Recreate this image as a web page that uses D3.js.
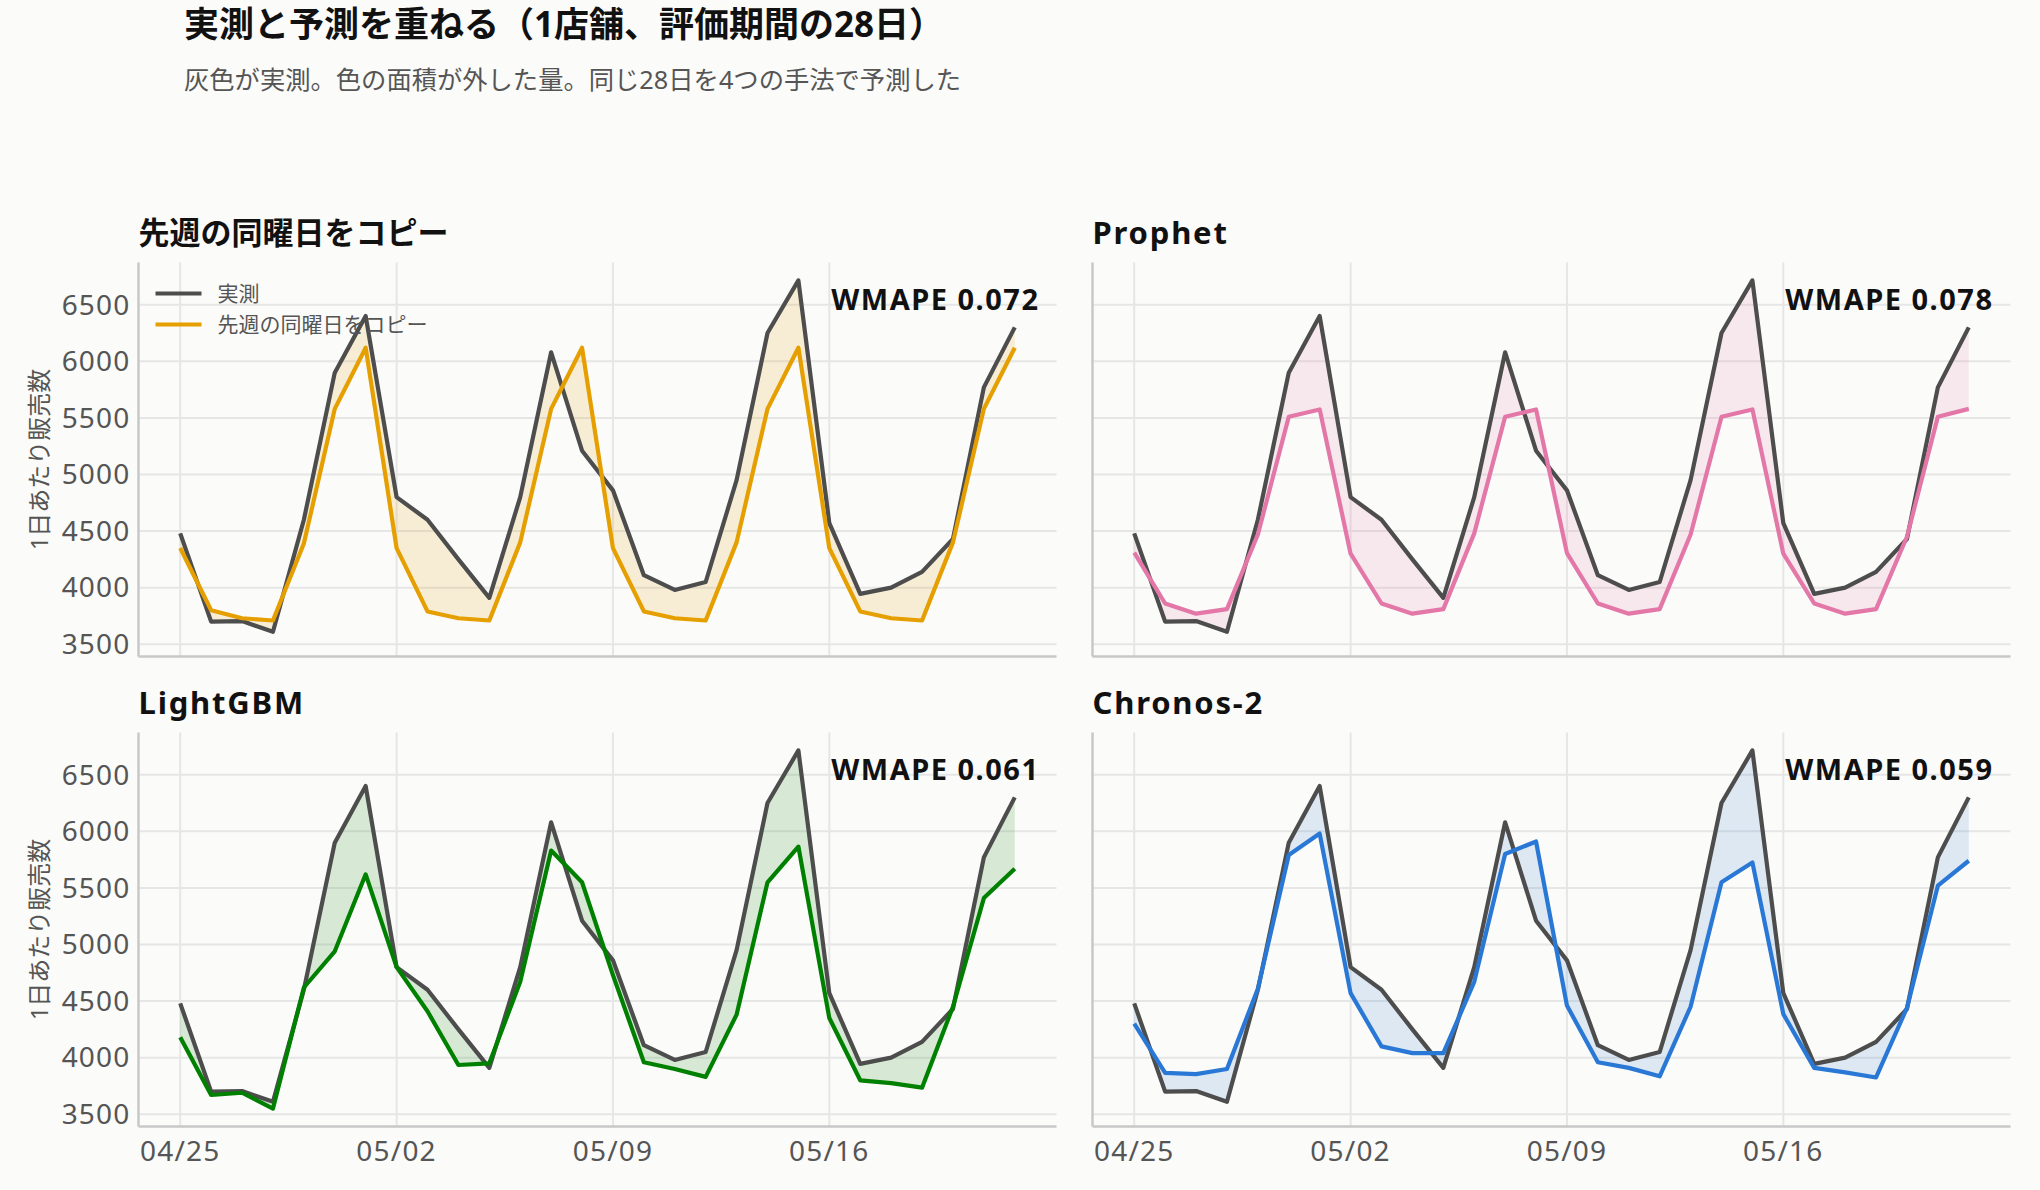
<!DOCTYPE html>
<html>
<head>
<meta charset="utf-8">
<script src="https://cdn.jsdelivr.net/npm/d3@7"></script>
<style>
    body { margin: 0; background: #fbfbf9; }
    svg { display: block; font-family: "Noto Sans", "Noto Sans CJK JP", sans-serif; }
    .grid line { stroke: #e6e6e6; stroke-width: 2; }
    .spine { stroke: #c8c8c8; stroke-width: 2.5; }
    .tick-label { fill: #555; font-size: 28px; letter-spacing: 1.2px; }
    .panel-title { fill: #111; font-size: 31px; font-weight: 700; }
    .panel-title.latin { letter-spacing: 1.8px; }
    .wmape { fill: #111; font-size: 29px; font-weight: 700; letter-spacing: 1.5px; }
    .y-title { fill: #555; font-size: 24px; }
    .legend text { fill: #555; font-size: 21px; }
</style>
</head>
<body>
<svg id="chart" width="2040" height="1190"></svg>
<script>
    // 28 evaluation days, 04/25 .. 05/22
    const firstDay = new Date(2025, 3, 25);
    const lastDay = new Date(2025, 4, 22);
    const tickLabels = ["04/25", "05/02", "05/09", "05/16"];
    const yTicks = [3500, 4000, 4500, 5000, 5500, 6000, 6500];

    const actual = [4480, 3700, 3705, 3610, 4600, 5900, 6400,
                    4800, 4600, 4250, 3910, 4800, 6080, 5210,
                    4860, 4110, 3980, 4050, 4950, 6250, 6715,
                    4570, 3945, 4000, 4140, 4430, 5770, 6300];

    const copyLastWeek = [4350, 3800, 3730, 3710, 4390, 5580, 6120,
                          4350, 3790, 3730, 3710, 4400, 5580, 6120,
                          4350, 3790, 3730, 3710, 4400, 5580, 6120,
                          4350, 3790, 3730, 3710, 4400, 5580, 6120];

    const prophet = [4310, 3860, 3770, 3810, 4470, 5510, 5575,
                     4300, 3860, 3770, 3810, 4480, 5510, 5575,
                     4305, 3860, 3770, 3810, 4470, 5510, 5575,
                     4300, 3860, 3770, 3810, 4450, 5510, 5580];

    const lightgbm = [4180, 3670, 3690, 3550, 4620, 4940, 5620,
                      4800, 4410, 3935, 3950, 4670, 5830, 5550,
                      4730, 3960, 3900, 3830, 4380, 5550, 5865,
                      4350, 3800, 3775, 3735, 4450, 5410, 5670];

    const chronos = [4300, 3865, 3855, 3900, 4610, 5790, 5980,
                     4570, 4100, 4040, 4040, 4670, 5800, 5910,
                     4460, 3960, 3910, 3835, 4450, 5550, 5725,
                     4385, 3910, 3870, 3825, 4440, 5520, 5740];

    const panelNames = ["先週の同曜日をコピー", "Prophet", "LightGBM", "Chronos-2"];
    const panelColors = ["#e69f00", "#e377a7", "#008000", "#2a78d6"];
    const panelWmape = ["0.072", "0.078", "0.061", "0.059"];
    const panelSeries = [copyLastWeek, prophet, lightgbm, chronos];

    const days = d3.timeDay.range(firstDay, d3.timeDay.offset(lastDay, 1));
    const parseTick = d3.timeParse("%Y/%m/%d");
    const tickDates = tickLabels.map(t => parseTick("2025/" + t));

    const svg = d3.select("#chart");

    // figure title
    svg.append("text").attr("x", 184).attr("y", 37)
        .attr("font-size", 35).attr("font-weight", 700).attr("fill", "#111")
        .text("実測と予測を重ねる（1店舗、評価期間の28日）");
    svg.append("text").attr("x", 184).attr("y", 89)
        .attr("font-size", 25.3).attr("fill", "#555")
        .text("灰色が実測。色の面積が外した量。同じ28日を4つの手法で予測した");

    // panel geometry
    const colX = [138.5, 1092.5];
    const rowY = [262.5, 732.5];
    const plotW = 918;
    const plotH = 394;

    // shared scales with 5% padding like matplotlib
    const xExt = d3.extent(days);
    const xPad = (xExt[1] - xExt[0]) * 0.05;
    const x = d3.scaleTime()
        .domain([new Date(+xExt[0] - xPad), new Date(+xExt[1] + xPad)])
        .range([0, plotW]);

    const allVals = actual.concat(...panelSeries);
    const yExt = d3.extent(allVals);
    const yPad = (yExt[1] - yExt[0]) * 0.05;
    const y = d3.scaleLinear()
        .domain([yExt[0] - yPad, yExt[1] + yPad])
        .range([plotH, 0]);

    panelNames.forEach((name, i) => {
        const col = i % 2, row = Math.floor(i / 2);
        const color = panelColors[i];
        const fc = panelSeries[i];
        const g = svg.append("g")
            .attr("transform", "translate(" + colX[col] + "," + rowY[row] + ")");

        // grid
        const grid = g.append("g").attr("class", "grid");
        grid.selectAll("line.h").data(yTicks).enter().append("line")
            .attr("x1", 0).attr("x2", plotW)
            .attr("y1", d => y(d)).attr("y2", d => y(d));
        grid.selectAll("line.v").data(tickDates).enter().append("line")
            .attr("x1", d => x(d)).attr("x2", d => x(d))
            .attr("y1", 0).attr("y2", plotH);

        // error area between actual and forecast
        const rows = days.map((d, k) => ({date: d, a: actual[k], f: fc[k]}));
        const area = d3.area()
            .x(d => x(d.date))
            .y0(d => y(d.a))
            .y1(d => y(d.f));
        g.append("path").datum(rows)
            .attr("d", area)
            .attr("fill", color)
            .attr("fill-opacity", 0.14);

        const line = key => d3.line().x(d => x(d.date)).y(d => y(d[key]));
        g.append("path").datum(rows)
            .attr("d", line("a"))
            .attr("fill", "none").attr("stroke", "#4d4d4d")
            .attr("stroke-width", 4.2).attr("stroke-linejoin", "round");
        g.append("path").datum(rows)
            .attr("d", line("f"))
            .attr("fill", "none").attr("stroke", color)
            .attr("stroke-width", 4.2).attr("stroke-linejoin", "round");

        // spines
        g.append("line").attr("class", "spine")
            .attr("x1", 0).attr("x2", 0).attr("y1", 0).attr("y2", plotH);
        g.append("line").attr("class", "spine")
            .attr("x1", 0).attr("x2", plotW).attr("y1", plotH).attr("y2", plotH);

        // tick labels only on outer axes
        if (col === 0) {
            g.selectAll("text.ytick").data(yTicks).enter().append("text")
                .attr("class", "tick-label")
                .attr("x", -8).attr("y", d => y(d))
                .attr("dy", "0.35em").attr("text-anchor", "end")
                .text(d => d);
            g.append("text").attr("class", "y-title")
                .attr("transform", "translate(-99," + (plotH / 2) + ") rotate(-90)")
                .attr("text-anchor", "middle").attr("dy", "0.35em")
                .text("1日あたり販売数");
        }
        if (row === 1) {
            g.selectAll("text.xtick").data(tickDates).enter().append("text")
                .attr("class", "tick-label")
                .attr("x", d => x(d)).attr("y", plotH + 25)
                .attr("dy", "0.35em").attr("text-anchor", "middle")
                .text((d, k) => tickLabels[k]);
        }

        g.append("text")
            .attr("class", /^[\x00-\x7f]+$/.test(name) ? "panel-title latin" : "panel-title")
            .attr("x", 0).attr("y", -19)
            .text(name);

        g.append("text").attr("class", "wmape")
            .attr("x", plotW - 17).attr("y", 47)
            .attr("text-anchor", "end")
            .text("WMAPE " + panelWmape[i]);

        if (i === 0) {
            const legend = g.append("g").attr("class", "legend");
            const items = [{label: "実測", color: "#4d4d4d"}, {label: name, color: color}];
            const li = legend.selectAll("g").data(items).enter().append("g")
                .attr("transform", (d, k) => "translate(17," + (31 + k * 31) + ")");
            li.append("line").attr("x1", 0).attr("x2", 46)
                .attr("stroke", d => d.color).attr("stroke-width", 4);
            li.append("text").attr("x", 62).attr("dy", "0.35em").text(d => d.label);
        }
    });
</script>
</body>
</html>
